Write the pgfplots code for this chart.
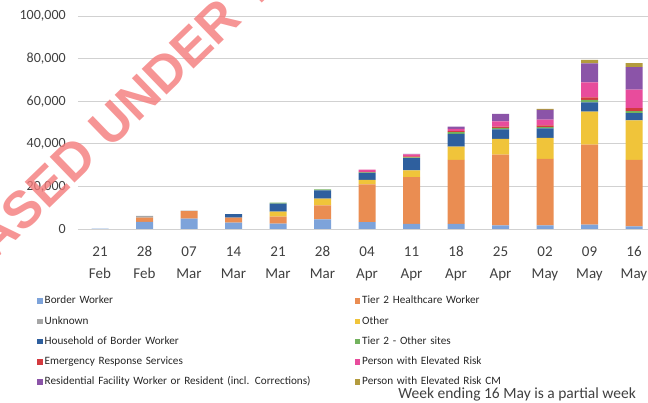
\documentclass[border=0pt]{standalone}
\usepackage{pgfplots}
\usepackage{pgfplotstable}
\pgfplotsset{compat=1.18}
\usepackage{fontspec}
\setmainfont{Carlito}
\newfontfamily\wmfont{Liberation Sans}

\definecolor{cborder}{HTML}{7DA3DA}
\definecolor{ctiertwo}{HTML}{EA8D52}
\definecolor{cunknown}{HTML}{A6A6A6}
\definecolor{cother}{HTML}{F0C43A}
\definecolor{chouse}{HTML}{2E5F9E}
\definecolor{ctwoother}{HTML}{73B25E}
\definecolor{cers}{HTML}{D33A3F}
\definecolor{cper}{HTML}{E84C9C}
\definecolor{cresid}{HTML}{8B54A8}
\definecolor{cpercm}{HTML}{B39B3E}
\definecolor{txt}{HTML}{404040}
\definecolor{wm}{HTML}{F47A7A}

\pgfplotstableread{
x border tiertwo unknown other house twoother ers per resid percm
0 150 0 0 0 0 0 0 0 0 0
1 3400 1900 900 0 0 0 0 0 0 0
2 4900 3500 200 0 0 0 0 0 0 0
3 3000 2350 0 0 1600 0 0 0 0 0
4 2500 3300 0 2350 3750 450 0 0 0 0
5 4550 6570 0 3100 3950 450 0 0 0 0
6 3200 17700 0 2200 3300 150 250 1100 0 0
7 2450 21900 0 3150 5800 350 450 900 300 0
8 2450 30000 0 6250 5950 800 450 1100 1100 0
9 1650 33300 0 7350 4500 650 600 2500 3450 0
10 1650 31300 0 9850 4400 600 800 2800 4550 450
11 2100 37550 0 15500 4350 1100 1200 7050 8900 1600
12 1200 31300 0 18450 3450 950 1400 8650 10600 1900
}\data

\begin{document}
\begin{tikzpicture}
\useasboundingbox (0pt,0pt) rectangle (648pt,403pt);
\clip (0pt,0pt) rectangle (648pt,403pt);
\begin{axis}[
  at={(77.75pt,174pt)}, anchor=south west,
  scale only axis, width=578.5pt, height=213pt,
  xmin=-0.5, xmax=12.5, ymin=0, ymax=100000,
  ybar stacked, bar width=17pt,
  axis line style={draw=none},
  major tick length=0pt,
  ymajorgrids, grid style={black!18, line width=0.6pt},
  scaled y ticks=false,
  ytick={0,20000,40000,60000,80000,100000},
  yticklabels={0,{20,000},{40,000},{60,000},{80,000},{100,000}},
  yticklabel style={font=\fontsize{14}{17}\selectfont, text=txt, xshift=-8.5pt},
  xtick={0,...,12},
  xticklabels={{21\\Feb},{28\\Feb},{07\\Mar},{14\\Mar},{21\\Mar},{28\\Mar},{04\\Apr},{11\\Apr},{18\\Apr},{25\\Apr},{02\\May},{09\\May},{16\\May}},
  xticklabel style={align=center, font=\fontsize{15}{22}\selectfont, text=txt, yshift=-14pt},
  every axis plot/.append style={draw=none},
  legend columns=2,
  legend image code/.code={\fill[#1] (0pt,-2.75pt) rectangle (5.5pt,2.75pt);},
  legend style={at={(-0.0704,-0.313)}, anchor=north west, draw=none, fill=none,
    inner sep=0pt, column sep=2pt, row sep=9.75pt,
    font=\fontsize{11.2}{13}\selectfont, text=black!85,
    nodes={text width=308pt, text height=8pt, text depth=2.5pt, inner sep=0pt}},
  legend cell align=left,
]
\addplot[fill=cborder] table[x=x,y=border]{\data};
\addlegendentry{Border Worker}
\addplot[fill=ctiertwo] table[x=x,y=tiertwo]{\data};
\addlegendentry{Tier 2 Healthcare Worker}
\addplot[fill=cunknown] table[x=x,y=unknown]{\data};
\addlegendentry{Unknown}
\addplot[fill=cother] table[x=x,y=other]{\data};
\addlegendentry{Other}
\addplot[fill=chouse] table[x=x,y=house]{\data};
\addlegendentry{Household of Border Worker}
\addplot[fill=ctwoother] table[x=x,y=twoother]{\data};
\addlegendentry{Tier 2 - Other sites}
\addplot[fill=cers] table[x=x,y=ers]{\data};
\addlegendentry{Emergency Response Services}
\addplot[fill=cper] table[x=x,y=per]{\data};
\addlegendentry{Person with Elevated Risk}
\addplot[fill=cresid] table[x=x,y=resid]{\data};
\addlegendentry{Residential Facility Worker or Resident (incl. Corrections)}
\addplot[fill=cpercm] table[x=x,y=percm]{\data};
\addlegendentry{Person with Elevated Risk CM}
\end{axis}
\node[anchor=east, inner sep=0pt, font=\fontsize{15.5}{17}\selectfont, text=txt] at (636pt,9pt) {Week ending 16 May is a partial week};
\node[anchor=base east, rotate=44, inner sep=0pt, font=\wmfont\bfseries\fontsize{52}{52}\selectfont, text=wm, opacity=0.8] at (100pt,243.3pt) {RELEASED};
\node[anchor=base west, rotate=44, inner sep=0pt, font=\wmfont\bfseries\fontsize{52}{52}\selectfont, text=wm, opacity=0.8] at (110.5pt,253.3pt) {UNDER THE OFFICIAL INFORMATION ACT};
\end{tikzpicture}
\end{document}
